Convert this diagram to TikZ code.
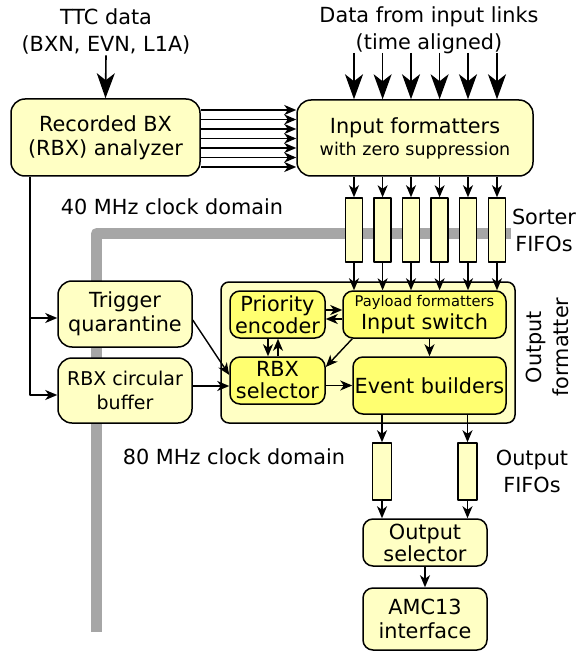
\documentclass[tikz,border=0pt]{standalone}
\usepackage{fontspec}
\setmainfont{DejaVu Sans}
\usetikzlibrary{arrows.meta}
\definecolor{boxcol}{HTML}{FFFFC4}
\definecolor{subcol}{HTML}{FFFF70}
\definecolor{domcol}{HTML}{A6A6A6}

\begin{document}
\begin{tikzpicture}[x=1pt, y=-1pt, line join=round,
  >={Stealth[length=12pt, width=10pt, inset=3.5pt]},
  blk/.style={draw, line width=1.5pt, fill=boxcol, rounded corners=14pt, inner sep=0pt,
    align=center, font=\fontsize{20.8}{24}\selectfont},
  sub/.style={blk, fill=subcol, rounded corners=10pt},
  fifo/.style={draw, line width=1.5pt, fill=boxcol, inner sep=0pt},
  lbl/.style={align=center, font=\fontsize{20.8}{27}\selectfont, inner sep=1pt},
  arr/.style={->, line width=1.4pt},
  bigarr/.style={-{Stealth[length=25pt, width=18pt, inset=7pt]}, line width=1.6pt}]
\useasboundingbox (0,0) rectangle (577,652);
% clock domain border
\draw[domcol, line width=11pt] (96.5,632) |- (577,233.5);
\node[lbl] (ttc) at (106,31.5) {TTC data\\(BXN, EVN, L1A)};
\node[lbl] (links) at (429,30) {Data from input links\\(time aligned)};
\node[blk, minimum width=189pt, minimum height=77pt] (ana) at (105.5,137.5) {Recorded BX\\(RBX) analyzer};
\node[blk, minimum width=236pt, minimum height=76pt] (infmt) at (415,138)
  {Input formatters\\[-2pt]{\fontsize{17.5}{20}\selectfont with zero suppression}};
\node[lbl] (dom40) at (172,207) {40 MHz clock domain};
\node[lbl] (dom80) at (234,457) {80 MHz clock domain};
\node[lbl, fill=white] (sortlbl) at (544,230) {Sorter\\FIFOs};
\node[lbl] (outlbl) at (532,471) {Output\\FIFOs};
\node[blk, rounded corners=8pt, minimum width=294pt, minimum height=141pt] (ofmt) at (368,352.5) {};
\node[lbl, rotate=90] (ofmtlbl) at (547.5,347) {Output\\formatter};
\node[blk, minimum width=134pt, minimum height=66pt] (quar) at (125,314) {Trigger\\quarantine};
\node[blk, minimum width=134pt, minimum height=65pt, font=\fontsize{19}{24}\selectfont] (rbxbuf) at (125,390.5) {RBX circular\\buffer};
\node[sub, minimum width=95pt, minimum height=47pt] (prio) at (277.5,314.5) {Priority\\[-2pt]encoder};
\node[sub, minimum width=163pt, minimum height=47pt] (insw) at (424.5,314.5)
  {{\fontsize{14.7}{17}\selectfont Payload formatters}\\[-1pt]Input switch};
\node[sub, minimum width=95pt, minimum height=47pt] (rbxsel) at (277.5,380.5) {RBX\\[-2pt]selector};
\node[sub, minimum width=153pt, minimum height=57pt] (evb) at (429.5,385.5) {Event builders};
\node[blk, rounded corners=10pt, minimum width=124pt, minimum height=47pt] (osel) at (425,542.5) {Output\\[-2pt]selector};
\node[blk, rounded corners=10pt, minimum width=124pt, minimum height=62pt] (amc) at (425,619) {AMC13\\interface};
\foreach \i/\x in {0/354,1/382.6,2/411,3/439.6,4/468,5/497} {
  \node[fifo, minimum width=17pt, minimum height=64pt] (sf\i) at (\x,230) {};
  \coordinate (in\i) at (\x,53);
  \draw[bigarr] (in\i) -- (in\i |- infmt.north);
  \draw[arr] (sf\i |- infmt.south) -- (sf\i.north);
  \draw[arr] (sf\i.south) -- (sf\i |- insw.north);
}
\foreach \i/\x in {0/382,1/467.5} {
  \node[fifo, minimum width=19pt, minimum height=57pt] (of\i) at (\x,471.5) {};
  \draw[arr] (of\i |- evb.south) -- (of\i.north);
  \draw[arr] (of\i.south) -- (of\i |- osel.north);
}
\draw[bigarr] (ttc.south) -- (ana.north);
\foreach \y in {110,119.5,...,167} {
  \draw[arr] (ana.east |- 0,\y) -- (infmt.west |- 0,\y);
}
\draw[arr] (ana.south -| 30,0) |- ([yshift=-4pt]quar.west);
\draw[arr] (ana.south -| 30,0) |- ([yshift=-4.5pt]rbxbuf.west);
\draw[arr] ([yshift=-6pt]quar.east) -- ([yshift=5.5pt]rbxsel.west);
\draw[arr] ([yshift=4.5pt]rbxbuf.east) -- ([yshift=-5.5pt]rbxsel.west);
\draw[arr] ([yshift=4.5pt]prio.east) -- ([yshift=4.5pt]insw.west);
\draw[arr] ([yshift=-4.5pt]insw.west) -- ([yshift=-4.5pt]prio.east);
\draw[arr] ([xshift=-9.5pt]prio.south) -- ([xshift=-9.5pt]rbxsel.north);
\draw[arr] ([xshift=0.5pt]rbxsel.north) -- ([xshift=0.5pt]prio.south);
\draw[arr] ([xshift=10pt]insw.south west) -- ([yshift=13.5pt]rbxsel.east);
\draw[arr] (insw.south -| evb.north) -- (evb.north);
\draw[arr] (rbxsel.east |- evb.west) -- (evb.west);
\draw[arr] (osel.south) -- (amc.north);
\end{tikzpicture}
\end{document}
